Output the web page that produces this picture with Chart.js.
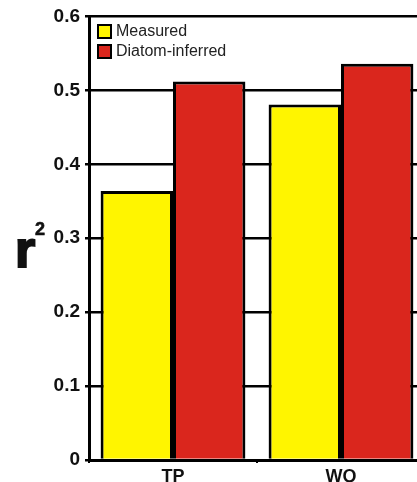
<!DOCTYPE html>
<html>
<head>
<meta charset="utf-8">
<script src="https://cdn.jsdelivr.net/npm/chart.js@4"></script>
<style>
  html, body { margin: 0; padding: 0; background: #fff; overflow: hidden; }
  #wrap { position: relative; width: 425px; height: 482px; }
  #legend { position: absolute; left: 97px; top: 21px; font-family: "Liberation Sans", Arial, sans-serif; font-size: 16px; color: #222; }
  .item { display: flex; align-items: center; height: 20px; }
  .box { width: 11px; height: 11px; border: 2px solid #000; margin-right: 4px; }
</style>
</head>
<body>
<div id="wrap">
  <canvas id="myChart" width="425" height="482"></canvas>
  <div id="legend"></div>
</div>
<script>
const categories = ['TP', 'WQ']
const measured = [0.364, 0.481]
const diatomInferred = [0.512, 0.536]
const seriesLabels = ['Measured', 'Diatom-inferred']
const seriesColors = ['#FFF500', '#DA261D']
const yTicks = [0, 0.1, 0.2, 0.3, 0.4, 0.5, 0.6]

// r squared axis label, drawn upright like the original
const rSquared = {
  id: 'rSquared',
  afterDraw(chart) {
    const ctx = chart.ctx
    ctx.save()
    ctx.fillStyle = '#111'
    ctx.strokeStyle = '#111'
    ctx.textBaseline = 'alphabetic'
    ctx.font = 'bold 52px "Liberation Sans", Arial, sans-serif'
    ctx.lineWidth = 2
    ctx.fillText('r', 15, 267)
    ctx.strokeText('r', 15, 267)
    ctx.font = 'bold 18px "Liberation Sans", Arial, sans-serif'
    ctx.lineWidth = 0.6
    ctx.fillText('2', 35, 235)
    ctx.strokeText('2', 35, 235)
    ctx.restore()
  }
}

const ctx = document.getElementById('myChart')

const chart = new Chart(ctx, {
  type: 'bar',
  data: {
    labels: categories,
    datasets: [{
      label: seriesLabels[0],
      data: measured,
      backgroundColor: seriesColors[0],
      borderColor: '#000',
      borderWidth: 3,
      borderSkipped: 'bottom'
    }, {
      label: seriesLabels[1],
      data: diatomInferred,
      backgroundColor: seriesColors[1],
      borderColor: '#000',
      borderWidth: 3,
      borderSkipped: 'bottom'
    }]
  },
  options: {
    responsive: false,
    animation: false,
    categoryPercentage: 0.862,
    barPercentage: 1,
    layout: { padding: { left: 0, right: 0, top: 8, bottom: 0 } },
    plugins: {
      legend: { display: false },
      tooltip: { enabled: false }
    },
    scales: {
      x: {
        offset: true,
        grid: { display: true, drawOnChartArea: false, color: '#000', lineWidth: 2, tickLength: 3, offset: true },
        border: { color: '#000', width: 3 },
        afterFit: axis => { axis.height = 22 },
        ticks: {
          color: '#111',
          padding: 3,
          font: { family: '"Liberation Sans", Arial, sans-serif', size: 18, weight: 'bold' }
        }
      },
      y: {
        min: 0,
        max: 0.6,
        afterBuildTicks: axis => { axis.ticks = yTicks.map(v => ({ value: v })) },
        grid: { color: '#000', lineWidth: 2.5, tickLength: 4 },
        border: { color: '#000', width: 3 },
        afterFit: axis => { axis.width = 89 },
        ticks: {
          color: '#111',
          padding: 5,
          font: { family: '"Liberation Sans", Arial, sans-serif', size: 19, weight: 'bold' },
          callback: v => v === 0 ? '0' : v.toFixed(1)
        }
      }
    }
  },
  plugins: [rSquared]
})

const legend = document.getElementById('legend')
chart.data.datasets.forEach(ds => {
  const row = document.createElement('div')
  row.className = 'item'
  const box = document.createElement('span')
  box.className = 'box'
  box.style.background = ds.backgroundColor
  const txt = document.createElement('span')
  txt.textContent = ds.label
  row.appendChild(box)
  row.appendChild(txt)
  legend.appendChild(row)
})
</script>
</body>
</html>
